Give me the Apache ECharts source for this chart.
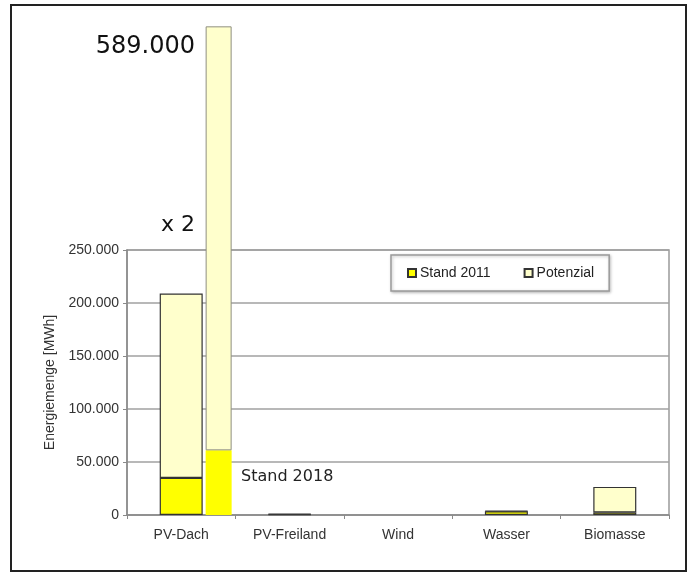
<!DOCTYPE html>
<html>
<head>
<meta charset="utf-8">
<script src="https://cdn.jsdelivr.net/npm/echarts@6/dist/echarts.min.js"></script>
<style>
html,body{margin:0;padding:0;background:#fff;}
#c{width:696px;height:572px;}
</style>
</head>
<body>
<div id="c"></div>
<script>
// ---- data ----
const categories = ['PV-Dach', 'PV-Freiland', 'Wind', 'Wasser', 'Biomasse'];
const stand2011 = [35000, 500, null, 3500, 2500];
const potenzial = [174000, 500, null, 500, 24000];
const stand2018 = [61000, null, null, null, null];
const potenzial2018 = [400000, null, null, null, null];
const spacer = [null, null, null, null, null];
const yMin = 0, yMax = 250000, yStep = 50000;
const legendNames = ['Stand 2011', 'Potenzial'];
const annotations = { big: '589.000', times: 'x 2', stand: 'Stand 2018' };

function fmt(v) { return String(v).replace(/\B(?=(\d{3})+(?!\d))/g, '.'); }

const chart = echarts.init(document.getElementById('c'), null, { renderer: 'canvas' });
const axisFont = 'Liberation Sans, Arial, sans-serif';
const annFont = 'DejaVu Sans, Verdana, sans-serif';

chart.setOption({
  animation: false,
  backgroundColor: '#ffffff',
  grid: { left: 127, right: 27, top: 250, bottom: 57, show: true, borderColor: '#9a9a9a', borderWidth: 1.5, backgroundColor: 'transparent' },
  legend: {
    data: legendNames,
    left: 391, top: 255,
    icon: 'rect', itemWidth: 8, itemHeight: 8, itemGap: 33,
    padding: [11, 15, 11, 16],
    backgroundColor: '#ffffff', borderColor: '#9a9a9a', borderWidth: 1.5,
    shadowBlur: 3, shadowColor: 'rgba(0,0,0,0.25)', shadowOffsetX: 1, shadowOffsetY: 1,
    textStyle: { fontFamily: axisFont, fontSize: 14, color: '#222', padding: [0, 0, 0, -1] }
  },
  xAxis: [
    {
      type: 'category', data: categories,
      axisLine: { lineStyle: { color: '#8a8a8a', width: 1.5 } },
      axisTick: { show: true, length: 4, lineStyle: { color: '#8a8a8a' } },
      axisLabel: { fontFamily: axisFont, fontSize: 14, color: '#333', margin: 13 }
    },
    { type: 'category', data: categories, show: false }
  ],
  yAxis: {
    type: 'value', min: yMin, max: yMax, interval: yStep,
    name: 'Energiemenge [MWh]', nameLocation: 'middle', nameGap: 66,
    nameTextStyle: { fontFamily: axisFont, fontSize: 14, color: '#333' },
    axisLine: { show: true, lineStyle: { color: '#8a8a8a', width: 1.5 } },
    axisTick: { show: true, length: 4, lineStyle: { color: '#8a8a8a' } },
    axisLabel: { fontFamily: axisFont, fontSize: 14, color: '#333', margin: 8, formatter: fmt },
    splitLine: { lineStyle: { color: '#a0a0a0', width: 1.5 } }
  },
  series: [
    {
      name: 'Stand 2011', type: 'bar', stack: 'a', xAxisIndex: 0, barWidth: 43,
      data: stand2011,
      itemStyle: { color: '#ffff00', borderColor: '#333', borderWidth: 1.2 }
    },
    {
      name: 'Potenzial', type: 'bar', stack: 'a', xAxisIndex: 0, barWidth: 43,
      data: potenzial,
      itemStyle: { color: '#ffffcc', borderColor: '#333', borderWidth: 1.2 }
    },
    {
      name: 'spacer', type: 'bar', stack: 's', xAxisIndex: 1, barWidth: 26, barGap: '188%',
      data: spacer, itemStyle: { color: 'transparent' }
    },
    {
      name: 'Stand 2018', type: 'bar', stack: 'n', xAxisIndex: 1, barWidth: 26, barGap: '188%',
      data: stand2018, clip: false,
      itemStyle: { color: '#ffff00', borderWidth: 0 }
    },
    {
      name: 'Potenzial 2018', type: 'bar', stack: 'n', xAxisIndex: 1, barWidth: 26, barGap: '188%',
      data: potenzial2018, clip: false,
      itemStyle: { color: '#ffffcc', borderColor: '#8f8f80', borderWidth: 1 }
    }
  ],
  graphic: [
    { type: 'rect', silent: true, z: 100, shape: { x: 11, y: 5, width: 675, height: 566 }, style: { fill: 'none', stroke: '#222', lineWidth: 2 } },
    { type: 'text', z: 100, x: 195, y: 47, style: { text: annotations.big, font: '24px ' + annFont, fill: '#111', textAlign: 'right', textVerticalAlign: 'middle' } },
    { type: 'text', z: 100, x: 178, y: 225, style: { text: annotations.times, font: '22px ' + annFont, fill: '#111', textAlign: 'center', textVerticalAlign: 'middle' } },
    { type: 'text', z: 100, x: 241, y: 477, style: { text: annotations.stand, font: '16px ' + annFont, fill: '#222', textAlign: 'left', textVerticalAlign: 'middle' } }
  ]
});
</script>
</body>
</html>
